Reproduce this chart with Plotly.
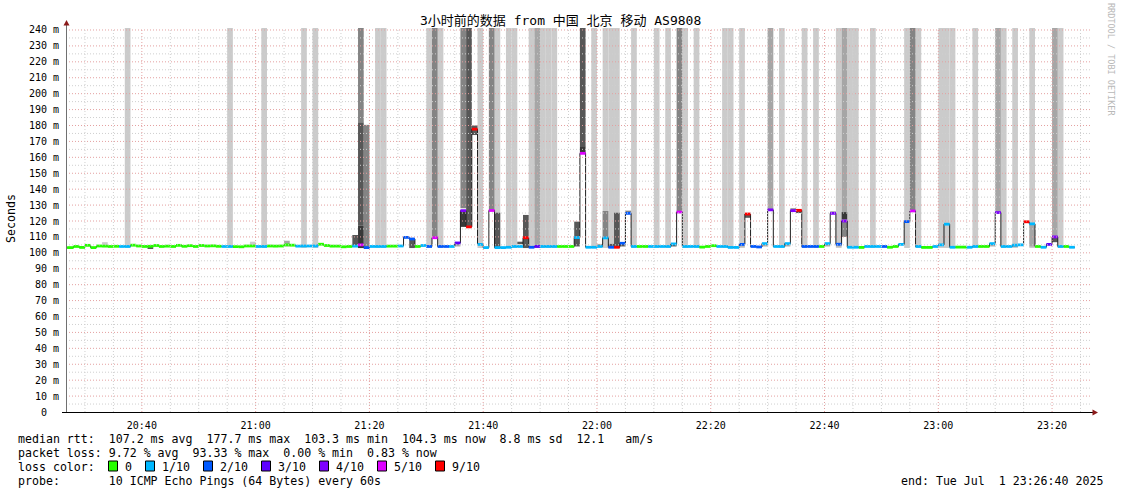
import pandas as pd
import plotly.graph_objects as go

# ---------------- data ----------------
DAY = "2025-07-01"
START = "20:26"          # first 1-minute step shown

# median RTT per minute (ms), 20:26 ... 23:23
median_ms = [
    103.3, 103.3, 104.0, 103.4,
    104.7, 103.3, 104.3, 104.2, 104.0, 104.1, 104.0, 104.0, 104.8, 104.3,   # 20:30
    104.0, 104.1, 104.6, 104.0, 104.2, 104.0, 104.7, 104.1, 104.5, 104.0,   # 20:40
    104.6, 104.3, 104.4, 104.1, 104.0, 104.0, 103.9, 103.8, 104.3, 104.3,   # 20:50
    104.0, 104.0, 104.3, 104.2, 104.3, 105.0, 104.8, 104.2, 104.3, 104.3,   # 21:00
    104.3, 105.4, 104.6, 104.2, 104.2, 103.8, 104.0, 104.2, 105.0, 103.3,   # 21:10
    104.0, 104.0, 104.0, 104.2, 104.2, 104.3, 109.7, 108.7, 104.0, 104.6,   # 21:20
    104.0, 109.5, 104.0, 104.0, 104.0, 106.2, 126.5, 116.3, 177.7, 105.3,   # 21:30
    103.3, 126.6, 103.3, 103.3, 103.5, 104.0, 104.0, 109.5, 103.5, 104.0,   # 21:40
    104.0, 104.0, 104.0, 104.0, 104.0, 104.0, 109.6, 162.5, 103.5, 103.5,   # 21:50
    104.0, 109.4, 103.5, 103.5, 106.0, 124.8, 104.0, 104.0, 104.0, 104.0,   # 22:00
    104.0, 104.0, 104.0, 105.6, 125.6, 104.0, 104.0, 104.0, 103.6, 104.0,   # 22:10
    104.5, 104.0, 104.0, 103.4, 103.4, 105.3, 124.4, 104.0, 103.7, 105.8,   # 22:20
    127.0, 104.0, 104.0, 105.8, 126.5, 126.7, 104.0, 104.0, 104.0, 104.0,   # 22:30
    105.8, 124.8, 105.4, 120.0, 103.5, 103.5, 103.4, 104.0, 104.0, 104.0,   # 22:40
    104.0, 103.5, 104.0, 105.3, 119.6, 126.3, 104.0, 103.4, 103.4, 104.0,   # 22:50
    105.0, 118.0, 103.5, 103.6, 103.6, 103.5, 104.0, 104.0, 104.0, 105.8,   # 23:00
    125.3, 104.0, 104.0, 104.8, 105.0, 119.5, 118.2, 104.0, 103.5, 105.3,   # 23:10
    110.0, 104.0, 104.0, 103.5,                                             # 23:20
]

# lost pings (out of 10) per minute
loss = [
    0, 0, 0, 0,
    0, 0, 0, 0, 0, 0, 1, 1, 0, 0,
    0, 0, 0, 0, 0, 0, 0, 0, 0, 0,
    0, 0, 0, 0, 1, 1, 0, 0, 0, 0,
    1, 1, 0, 0, 0, 0, 0, 1, 1, 1,
    1, 0, 0, 0, 0, 0, 0, 1, 5, 2,
    1, 1, 1, 0, 0, 1, 2, 2, 0, 1,
    2, 5, 2, 2, 1, 3, 4, 9, 9, 1,
    1, 5, 1, 1, 1, 1, 1, 9, 2, 3,
    1, 1, 1, 0, 0, 0, 1, 5, 1, 1,
    1, 1, 2, 9, 2, 2, 1, 0, 0, 1,
    1, 1, 1, 1, 5, 1, 1, 1, 0, 0,
    0, 1, 1, 1, 1, 2, 9, 2, 2, 1,
    4, 1, 1, 1, 4, 9, 2, 2, 2, 0,
    1, 4, 2, 4, 1, 1, 0, 1, 1, 1,
    2, 0, 0, 1, 2, 5, 1, 0, 0, 1,
    1, 1, 1, 0, 0, 1, 1, 0, 0, 1,
    4, 1, 1, 1, 1, 9, 1, 0, 1, 3,
    4, 1, 0, 1,
]

# smoke (ping spread) bands: minute, low ms, high ms, density level (0 = sparse .. 4 = dense)
smoke_time = ["20:33", "20:37", "20:41", "20:55", "20:59", "21:01", "21:05", "21:08", "21:10",
              "21:17", "21:18", "21:18", "21:18", "21:19", "21:21", "21:22", "21:27",
              "21:30", "21:31", "21:32", "21:35", "21:36", "21:36", "21:37", "21:38", "21:39",
              "21:41", "21:42", "21:42", "21:44", "21:45", "21:46", "21:47", "21:48", "21:49",
              "21:50", "21:51", "21:52", "21:56", "21:57", "21:57", "21:59",
              "22:00", "22:01", "22:01", "22:02", "22:02", "22:03", "22:03", "22:04", "22:05",
              "22:06", "22:10", "22:12", "22:13", "22:14", "22:15", "22:17", "22:22", "22:23",
              "22:25", "22:25", "22:26", "22:29", "22:30", "22:32", "22:33", "22:34", "22:35",
              "22:36", "22:38", "22:40", "22:41", "22:42", "22:42", "22:43", "22:43", "22:43",
              "22:44", "22:45", "22:48", "22:54", "22:55", "22:56",
              "23:00", "23:01", "23:02", "23:06", "23:09", "23:10", "23:11", "23:13", "23:13",
              "23:16", "23:16", "23:20", "23:20", "23:21"]
smoke_lo = [104.0, 103.0, 102.8, 103.0, 104.0, 103.0, 104.0, 103.0, 103.0,
            104.0, 182.0, 117.0, 103.0, 103.0, 103.0, 103.0, 103.0,
            103.0, 109.5, 103.0, 104.0, 128.0, 116.3, 116.3, 174.0, 103.0,
            126.6, 103.0, 103.0, 103.0, 103.0, 105.4, 103.0, 103.0, 103.0,
            103.0, 103.0, 103.0, 104.0, 167.0, 162.5, 103.0,
            104.0, 103.0, 109.4, 103.0, 103.5, 103.0, 103.5, 104.0, 124.8,
            103.0, 103.0, 103.0, 104.0, 125.6, 103.0, 103.0, 103.0, 103.0,
            103.0, 104.0, 122.0, 104.0, 127.0, 103.0, 104.0, 126.5, 125.0,
            103.0, 103.0, 104.0, 124.8, 103.0, 104.0, 125.6, 121.0, 110.0,
            103.0, 103.0, 103.0, 103.0, 126.3, 103.0,
            103.0, 103.0, 103.0, 103.0, 104.0, 125.3, 103.0, 103.0, 104.0,
            103.0, 104.0, 110.0, 106.7, 103.0]
smoke_hi = [106.7, 250, 104.0, 250, 107.0, 250, 107.6, 250, 250,
            111.2, 250, 182.0, 117.0, 180.4, 250, 250, 108.7,
            250, 250, 250, 106.2, 250, 126.5, 250, 180.0, 250,
            250, 250, 125.2, 250, 250, 107.0, 123.8, 250, 250,
            250, 250, 250, 119.6, 250, 167.0, 250,
            105.6, 250, 126.3, 250, 105.6, 250, 125.2, 106.8, 126.5,
            250, 250, 250, 105.6, 250, 250, 250, 250, 250,
            250, 105.3, 124.4, 105.8, 250, 250, 105.8, 128.0, 126.7,
            250, 250, 105.8, 126.0, 250, 105.4, 250, 125.6, 121.0,
            250, 250, 250, 250, 250, 250,
            250, 250, 250, 250, 105.8, 250, 250, 250, 104.8,
            250, 118.2, 250, 110.0, 250]
smoke_level = [0, 0, 3, 0, 0, 0, 1, 0, 0,
               3, 2, 3, 4, 2, 0, 0, 3,
               0, 2, 0, 1, 2, 4, 3, 3, 0,
               2, 0, 3, 0, 0, 3, 3, 0, 1,
               0, 0, 0, 3, 3, 4, 0,
               1, 0, 2, 0, 3, 0, 3, 3, 2,
               0, 0, 0, 3, 2, 0, 0, 0, 0,
               0, 1, 3, 1, 1, 0, 1, 2, 3,
               0, 0, 1, 2, 0, 1, 1, 4, 2,
               0, 0, 0, 0, 2, 0,
               0, 0, 0, 0, 1, 1, 0, 0, 1,
               0, 1, 1, 3, 0]

loss_levels = [0, 1, 2, 3, 4, 5, 9]
loss_labels = ["0", "1/10", "2/10", "3/10", "4/10", "5/10", "9/10"]

stats_line1 = "median rtt:  107.2 ms avg  177.7 ms max  103.3 ms min  104.3 ms now  8.8 ms sd  12.1   am/s"
stats_line2 = "packet loss: 9.72 % avg  93.33 % max  0.00 % min  0.83 % now"
probe_line = "probe:       10 ICMP Echo Pings (64 Bytes) every 60s"
end_line = "end: Tue Jul  1 23:26:40 2025"
title_text = "3小时前的数据 from 中国 北京 移动 AS9808"

y_ticks = list(range(0, 241, 10))

# ---------------- styles ----------------
LOSS_COLORS = {0: "#26ff00", 1: "#00b8ff", 2: "#0059ff", 3: "#5e00ff",
               4: "#7e00ff", 5: "#dd00ff", 9: "#ff0000"}
SMOKE_COLORS = ["#cbcbcb", "#a6a6a6", "#848484", "#575757", "#383838"]
MONO = "DejaVu Sans Mono, Noto Sans CJK SC, monospace"
W, H = 1121, 494
L, R, T, B = 66, 31, 28, 82
PW, PH = W - L - R, H - T - B


def px(xp):
    return (xp - L) / PW


def py(yp):
    return (T + PH - yp) / PH


def nb(s):
    return s.replace(" ", "\u00a0")


STEP = pd.Timedelta(minutes=1)
times = pd.date_range(f"{DAY} {START}", periods=len(median_ms), freq="min")

fig = go.Figure()

# smoke, light first then darker on top
for lvl in range(len(SMOKE_COLORS)):
    idx = [i for i, s in enumerate(smoke_level) if s == lvl]
    if not idx:
        continue
    fig.add_trace(go.Bar(
        x=[pd.Timestamp(f"{DAY} {smoke_time[i]}") + STEP / 2 for i in idx],
        base=[smoke_lo[i] for i in idx],
        y=[smoke_hi[i] - smoke_lo[i] for i in idx],
        width=60000, marker=dict(color=SMOKE_COLORS[lvl], line=dict(width=0)),
        showlegend=False, hoverinfo="skip"))

# median step line
fig.add_trace(go.Scatter(
    x=list(times) + [times[-1] + STEP], y=median_ms + [median_ms[-1]],
    mode="lines", line=dict(color="#202020", width=1, shape="hv"),
    showlegend=False, hoverinfo="skip"))

# loss-coloured median segments (drawn over the black step line)
for lv in loss_levels:
    xs, ys = [], []
    for t, m, l in zip(times, median_ms, loss):
        if l == lv:
            xs += [t, t + STEP, None]
            ys += [m, m, None]
    if xs:
        fig.add_trace(go.Scatter(x=xs, y=ys, mode="lines",
                                 line=dict(color=LOSS_COLORS[lv], width=2.8),
                                 showlegend=False, hoverinfo="skip"))

shapes = []
# grid (drawn over the graph like rrdtool)
for v in range(5, 241, 5):
    shapes.append(dict(type="line", xref="paper", yref="y", x0=0, x1=1, y0=v, y1=v,
                       line=dict(color="#e4a0a0" if v % 10 == 0 else "#cfcfcf", width=1, dash="1px,2px"),
                       layer="above"))
g = pd.Timestamp(f"{DAY} 20:30")
x_end = pd.Timestamp(f"{DAY} 23:26:40")
while g < x_end:
    red = g.minute % 20 == 0
    shapes.append(dict(type="line", xref="x", yref="paper", x0=g, x1=g, y0=0, y1=1,
                       line=dict(color="#e4a0a0" if red else "#cfcfcf", width=1, dash="1px,2px"),
                       layer="above"))
    g += pd.Timedelta(minutes=5)

# axes lines with arrows
shapes.append(dict(type="line", xref="paper", yref="paper", x0=px(66.5), x1=px(66.5),
                   y0=py(412), y1=py(24), line=dict(color="#707070", width=1), layer="above"))
shapes.append(dict(type="line", xref="paper", yref="paper", x0=px(62), x1=px(1094),
                   y0=py(412.5), y1=py(412.5), line=dict(color="#000000", width=1), layer="above"))
shapes.append(dict(type="path", xref="paper", yref="paper",
                   path=f"M {px(66.5)} {py(20)} L {px(63.5)} {py(25.5)} L {px(69.5)} {py(25.5)} Z",
                   fillcolor="#8b1a1a", line=dict(width=0), layer="above"))
shapes.append(dict(type="path", xref="paper", yref="paper",
                   path=f"M {px(1098)} {py(412.5)} L {px(1092.5)} {py(409.5)} L {px(1092.5)} {py(415.5)} Z",
                   fillcolor="#8b1a1a", line=dict(width=0), layer="above"))

annotations = []
box_px = [108.5, 145.5, 203.5, 261.5, 319.5, 377.5, 435.5]
for bx, lv, lab in zip(box_px, loss_levels, loss_labels):
    shapes.append(dict(type="rect", xref="paper", yref="paper", x0=px(bx), x1=px(bx + 9),
                       y0=py(471), y1=py(461), fillcolor=LOSS_COLORS[lv],
                       line=dict(color="#000000", width=1)))
    annotations.append(dict(text=nb(lab), xref="paper", yref="paper", x=px(bx + 14), y=py(466.5),
                            xanchor="left", yanchor="middle", showarrow=False,
                            font=dict(family=MONO, size=11.6, color="#000")))

for txt, yy in [(stats_line1, 438.5), (stats_line2, 452.5), ("loss color:", 466.5), (probe_line, 480.5)]:
    annotations.append(dict(text=nb(txt), xref="paper", yref="paper", x=px(16), y=py(yy),
                            xanchor="left", yanchor="middle", showarrow=False,
                            font=dict(family=MONO, size=11.6, color="#000")))
annotations.append(dict(text=nb(end_line), xref="paper", yref="paper", x=px(1105), y=py(480.5),
                        xanchor="right", yanchor="middle", showarrow=False,
                        font=dict(family=MONO, size=11.6, color="#000")))
annotations.append(dict(text=nb(title_text), xref="paper", yref="paper", x=px(560.5), y=py(21),
                        xanchor="center", yanchor="middle", showarrow=False,
                        font=dict(family=MONO, size=13, color="#000")))
annotations.append(dict(text="Seconds", xref="paper", yref="paper", x=px(11), y=py(219),
                        xanchor="center", yanchor="middle", showarrow=False, textangle=-90,
                        font=dict(family=MONO, size=11.6, color="#000")))
annotations.append(dict(text=nb("RRDTOOL / TOBI OETIKER"), xref="paper", yref="paper",
                        x=px(1111), y=py(59), xanchor="center", yanchor="middle",
                        showarrow=False, textangle=90,
                        font=dict(family=MONO, size=8.5, color="#b8b8b8")))

fig.update_layout(
    width=W, height=H, margin=dict(l=L, r=R, t=T, b=B, pad=0, autoexpand=False),
    paper_bgcolor="white", plot_bgcolor="white", barmode="overlay",
    showlegend=False, shapes=shapes, annotations=annotations,
    font=dict(family=MONO, size=10, color="#000"),
    xaxis=dict(type="date", range=[f"{DAY} 20:26:40", f"{DAY} 23:26:40"],
               showgrid=False, zeroline=False, showline=False, automargin=False,
               tickformat="%H:%M", dtick=20 * 60 * 1000, tick0=f"{DAY} 20:40",
               ticks="outside", ticklen=4, tickcolor="rgba(0,0,0,0)",
               tickfont=dict(family=MONO, size=10, color="#000")),
    yaxis=dict(range=[0, PH / 1.5917], showgrid=False, zeroline=False, showline=False,
               automargin=False, tickvals=y_ticks,
               ticktext=[nb("0  ") if v == 0 else nb(f"{v} m") for v in y_ticks],
               ticks="outside", ticklen=4, tickcolor="rgba(0,0,0,0)",
               tickfont=dict(family=MONO, size=10, color="#000")),
)

fig.write_html("out.html", config={"displayModeBar": False},
               post_script="document.body.style.margin='0';document.body.style.overflow='hidden';")
